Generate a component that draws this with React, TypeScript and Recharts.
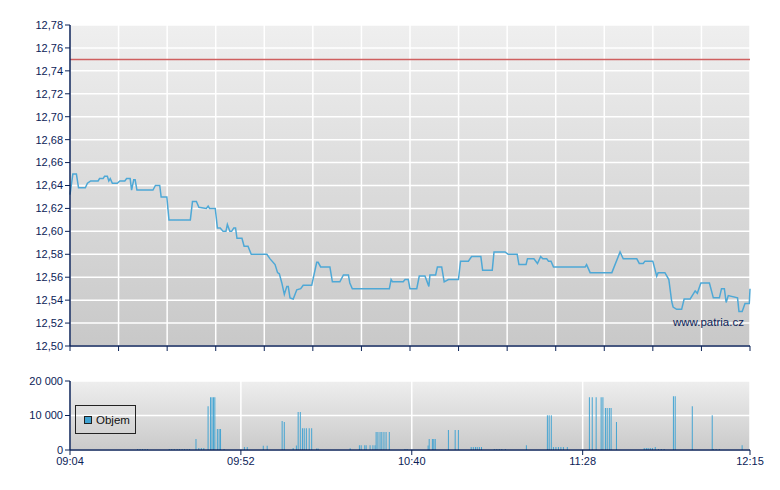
import React from "react";
import {
  ComposedChart,
  Line,
  Bar,
  XAxis,
  YAxis,
  CartesianGrid,
  ReferenceLine,
} from "recharts";

// minutes after 09:04
const priceTimes = [
  0, 0.8, 1.8, 2.4, 4.3, 4.9, 5.8, 7.9, 8.3, 9.3, 9.7, 10.5, 10.9, 11.3, 11.9, 13.3, 14.0, 15.4, 15.9, 16.9,
  17.3, 17.9, 18.3, 18.8, 23.3, 24.0, 25.2, 25.6, 27.2, 27.8, 33.8, 34.4, 35.5, 36.2, 38.3, 38.8, 39.2, 40.8,
  41.4, 42.2, 43.0, 43.8, 44.2, 44.9, 45.4, 46.0, 46.5, 46.9, 48.3, 48.9, 50.0, 50.9, 55.3, 56.2, 57.6, 58.3,
  58.8, 59.5, 60.2, 60.9, 61.3, 61.8, 62.7, 63.7, 64.8, 65.5, 67.9, 69.3, 69.7, 70.4, 73.0, 73.7, 75.8, 76.8,
  78.2, 78.6, 79.3, 89.7, 90.2, 90.6, 93.6, 94.1, 95.0, 95.5, 97.4, 98.1, 99.7, 100.8, 101.1, 102.7, 103.2,
  104.4, 105.1, 106.3, 109.1, 109.7, 111.9, 112.8, 115.4, 115.9, 118.6, 119.1, 122.2, 123.1, 125.6, 126.1,
  128.1, 128.5, 130.3, 131.3, 132.2, 132.8, 133.9, 134.4, 135.1, 135.8, 144.7, 145.1, 146.1, 152.2, 154.5,
  155.4, 159.2, 159.9, 161.0, 161.5, 163.7, 164.8, 165.2, 167.1, 168.2, 169.0, 169.4, 170.4, 171.8, 172.5,
  174.2, 175.6, 176.2, 177.2, 179.6, 180.7, 182.4, 183.0, 183.8, 184.3, 184.9, 187.5, 187.9, 188.8, 189.6,
  190.8, 191,
];
const priceValues = [
  12.632, 12.65, 12.65, 12.638, 12.638, 12.642, 12.644, 12.644, 12.646, 12.646, 12.648, 12.648, 12.644, 12.646,
  12.642, 12.642, 12.644, 12.644, 12.646, 12.646, 12.636, 12.645, 12.645, 12.636, 12.636, 12.64, 12.64, 12.63,
  12.63, 12.61, 12.61, 12.626, 12.626, 12.621, 12.62, 12.622, 12.62, 12.62, 12.603, 12.603, 12.6, 12.6, 12.606,
  12.6, 12.6, 12.603, 12.603, 12.594, 12.594, 12.587, 12.587, 12.58, 12.58, 12.576, 12.571, 12.564, 12.563,
  12.555, 12.545, 12.552, 12.552, 12.542, 12.541, 12.549, 12.55, 12.553, 12.553, 12.573, 12.573, 12.569,
  12.569, 12.556, 12.556, 12.562, 12.562, 12.555, 12.55, 12.55, 12.558, 12.556, 12.556, 12.558, 12.558, 12.55,
  12.55, 12.561, 12.561, 12.552, 12.562, 12.562, 12.569, 12.569, 12.556, 12.558, 12.558, 12.574, 12.574,
  12.578, 12.578, 12.566, 12.566, 12.582, 12.582, 12.58, 12.58, 12.571, 12.571, 12.576, 12.576, 12.572,
  12.578, 12.576, 12.576, 12.574, 12.574, 12.569, 12.569, 12.571, 12.564, 12.564, 12.582, 12.576, 12.576,
  12.572, 12.572, 12.574, 12.574, 12.561, 12.564, 12.564, 12.558, 12.539, 12.534, 12.532, 12.532, 12.541,
  12.541, 12.548, 12.546, 12.555, 12.555, 12.542, 12.542, 12.55, 12.55, 12.538, 12.544, 12.542, 12.53, 12.53,
  12.537, 12.537, 12.55,
];

const volTimes = [
  19.0, 19.7, 20.4, 21.1, 21.8, 27.9, 28.6, 29.3, 30.1, 30.8, 31.5, 32.2, 32.9, 33.6, 35.4, 36.2, 36.9, 37.6,
  38.8, 39.5, 39.9, 40.3, 40.7, 41.4, 41.9, 42.3, 43.3, 49.0, 49.8, 54.3, 55.4, 59.6, 60.2, 62.7, 63.6, 64.1,
  64.7, 65.3, 65.8, 66.4, 67.2, 67.9, 69.3, 69.7, 78.7, 81.3, 81.8, 82.8, 83.2, 84.3, 85.1, 85.7, 86.0, 86.5,
  87.1, 87.6, 88.2, 88.8, 89.7, 94.1, 94.7, 100.6, 100.9, 101.8, 102.2, 102.6, 106.3, 108.2, 109.1, 112.7,
  113.3, 113.9, 114.4, 115.0, 115.6, 119.2, 119.9, 120.6, 121.3, 122.3, 128.2, 134.1, 134.6, 135.2, 135.8,
  136.5, 137.2, 137.9, 138.6, 139.7, 145.9, 146.7, 147.8, 149.2, 149.7, 150.4, 150.9, 151.5, 152.0, 153.5,
  161.3, 161.9, 162.4, 163.0, 163.6, 164.4, 165.3, 166.1, 166.9, 169.5, 170.0, 174.8, 180.4, 180.7, 181.5,
  182.4, 188.8,
];
const volValues = [
  300, 300, 300, 300, 300, 300, 300, 300, 300, 300, 300, 300, 300, 300, 3200, 600, 600, 600, 12700, 15300,
  15300, 15300, 15300, 6100, 6100, 6100, 300, 900, 900, 1200, 1200, 8400, 8100, 600, 1300, 11000, 11000, 6300,
  6300, 6300, 6300, 6300, 400, 400, 500, 1400, 1400, 1400, 1400, 1400, 1400, 1400, 5200, 5200, 5200, 5200,
  5200, 5200, 5200, 300, 300, 1300, 3200, 3200, 3200, 3200, 5800, 5800, 5800, 900, 900, 900, 900, 900, 900,
  300, 300, 300, 300, 300, 1400, 10100, 10100, 10100, 900, 900, 900, 900, 900, 900, 15300, 15300, 15300, 15300,
  15300, 12200, 12200, 12200, 12200, 8100, 600, 600, 600, 600, 600, 900, 300, 300, 300, 15600, 15600, 12700,
  10100, 300, 300, 300, 1400,
];

const priceTicks = [12.5, 12.52, 12.54, 12.56, 12.58, 12.6, 12.62, 12.64, 12.66, 12.68, 12.7, 12.72, 12.74, 12.76, 12.78];
const mainTimeTicks = [0, 13.64, 27.29, 40.93, 54.57, 68.21, 81.86, 95.5, 109.14, 122.79, 136.43, 150.07, 163.71, 177.36, 191];
const volTimeTicks = [0, 48, 96, 144, 191];
const volTimeLabels = ["09:04", "09:52", "10:40", "11:28", "12:15"];
const volTicks = [0, 10000, 20000];
const previousClose = 12.75;

const priceData = priceTimes.map((t, i) => ({ t, price: priceValues[i] }));
const volData = volTimes.map((t, i) => ({ t, vol: volValues[i] }));

const NAVY = "#0b2257";
const FONT = "'Liberation Sans', Arial, sans-serif";
const tickStyle = { fontSize: 11, fill: NAVY, fontFamily: FONT };

export default function App() {
  return (
    <div style={{ position: "absolute", left: 0, top: 0, width: 780, height: 490, background: "#fff" }}>
      <ComposedChart width={780} height={360} data={priceData} margin={{ top: 25, right: 30, bottom: 4, left: 10 }}>
        <defs>
          <linearGradient id="bgMain" x1="0" y1="0" x2="0" y2="1">
            <stop offset="0%" stopColor="#efefef" />
            <stop offset="100%" stopColor="#c8c8c8" />
          </linearGradient>
        </defs>
        <CartesianGrid fill="url(#bgMain)" fillOpacity={1} stroke="#ffffff" strokeWidth={1.5} />
        <XAxis
          dataKey="t"
          type="number"
          domain={[0, 191]}
          ticks={mainTimeTicks}
          tickFormatter={() => ""}
          height={10}
          tickSize={5}
          stroke={NAVY}
          tickLine={{ stroke: NAVY }}
          axisLine={{ stroke: NAVY, strokeWidth: 1.5 }}
        />
        <YAxis
          type="number"
          domain={[12.5, 12.78]}
          ticks={priceTicks}
          width={60}
          tickSize={5}
          tickMargin={2}
          tick={tickStyle}
          tickLine={{ stroke: NAVY }}
          axisLine={{ stroke: NAVY, strokeWidth: 1.5 }}
          tickFormatter={(v: number) => v.toFixed(2).replace(".", ",")}
          interval={0}
        />
        <ReferenceLine y={previousClose} stroke="#cf5f5f" strokeWidth={1.5} />
        <Line
          dataKey="price"
          type="linear"
          stroke="#4ea8d6"
          strokeWidth={1.5}
          dot={false}
          isAnimationActive={false}
        />
      </ComposedChart>
      <div
        style={{
          position: "absolute",
          left: 673,
          top: 316,
          fontFamily: FONT,
          fontSize: 11.5,
          color: NAVY,
        }}
      >
        www.patria.cz
      </div>
      <div style={{ position: "absolute", left: 0, top: 360 }}>
        <ComposedChart width={780} height={130} data={volData} margin={{ top: 21, right: 30, bottom: 20, left: 10 }}>
          <defs>
            <linearGradient id="bgVol" x1="0" y1="0" x2="0" y2="1">
              <stop offset="0%" stopColor="#eeeeee" />
              <stop offset="100%" stopColor="#cacaca" />
            </linearGradient>
          </defs>
          <CartesianGrid fill="url(#bgVol)" fillOpacity={1} stroke="#ffffff" strokeWidth={1.5} />
          <XAxis
            dataKey="t"
            type="number"
            domain={[0, 191]}
            ticks={volTimeTicks}
            interval={0}
            height={20}
            tickSize={5}
            tickMargin={2}
            tick={tickStyle}
            tickLine={{ stroke: NAVY }}
            axisLine={{ stroke: NAVY, strokeWidth: 1.5 }}
            tickFormatter={(v: number) => volTimeLabels[volTimeTicks.indexOf(v)] ?? ""}
          />
          <YAxis
            type="number"
            domain={[0, 20000]}
            ticks={volTicks}
            interval={0}
            width={60}
            tickSize={5}
            tickMargin={2}
            tick={tickStyle}
            tickLine={{ stroke: NAVY }}
            axisLine={{ stroke: NAVY, strokeWidth: 1.5 }}
            tickFormatter={(v: number) => v.toLocaleString("en-US").replace(/,/g, " ")}
          />
          <Bar dataKey="vol" fill="#3ea2d2" barSize={1.3} isAnimationActive={false} />
        </ComposedChart>
        <div
          style={{
            position: "absolute",
            left: 75,
            top: 45,
            width: 59,
            height: 27,
            border: "1px solid #222",
            display: "flex",
            alignItems: "center",
            fontFamily: FONT,
            fontSize: 11.5,
            color: "#111",
          }}
        >
          <span
            style={{
              display: "inline-block",
              width: 6,
              height: 6,
              background: "#3ea2d2",
              border: "1px solid #222",
              marginLeft: 8,
              marginRight: 4,
            }}
          />
          Objem
        </div>
      </div>
    </div>
  );
}
